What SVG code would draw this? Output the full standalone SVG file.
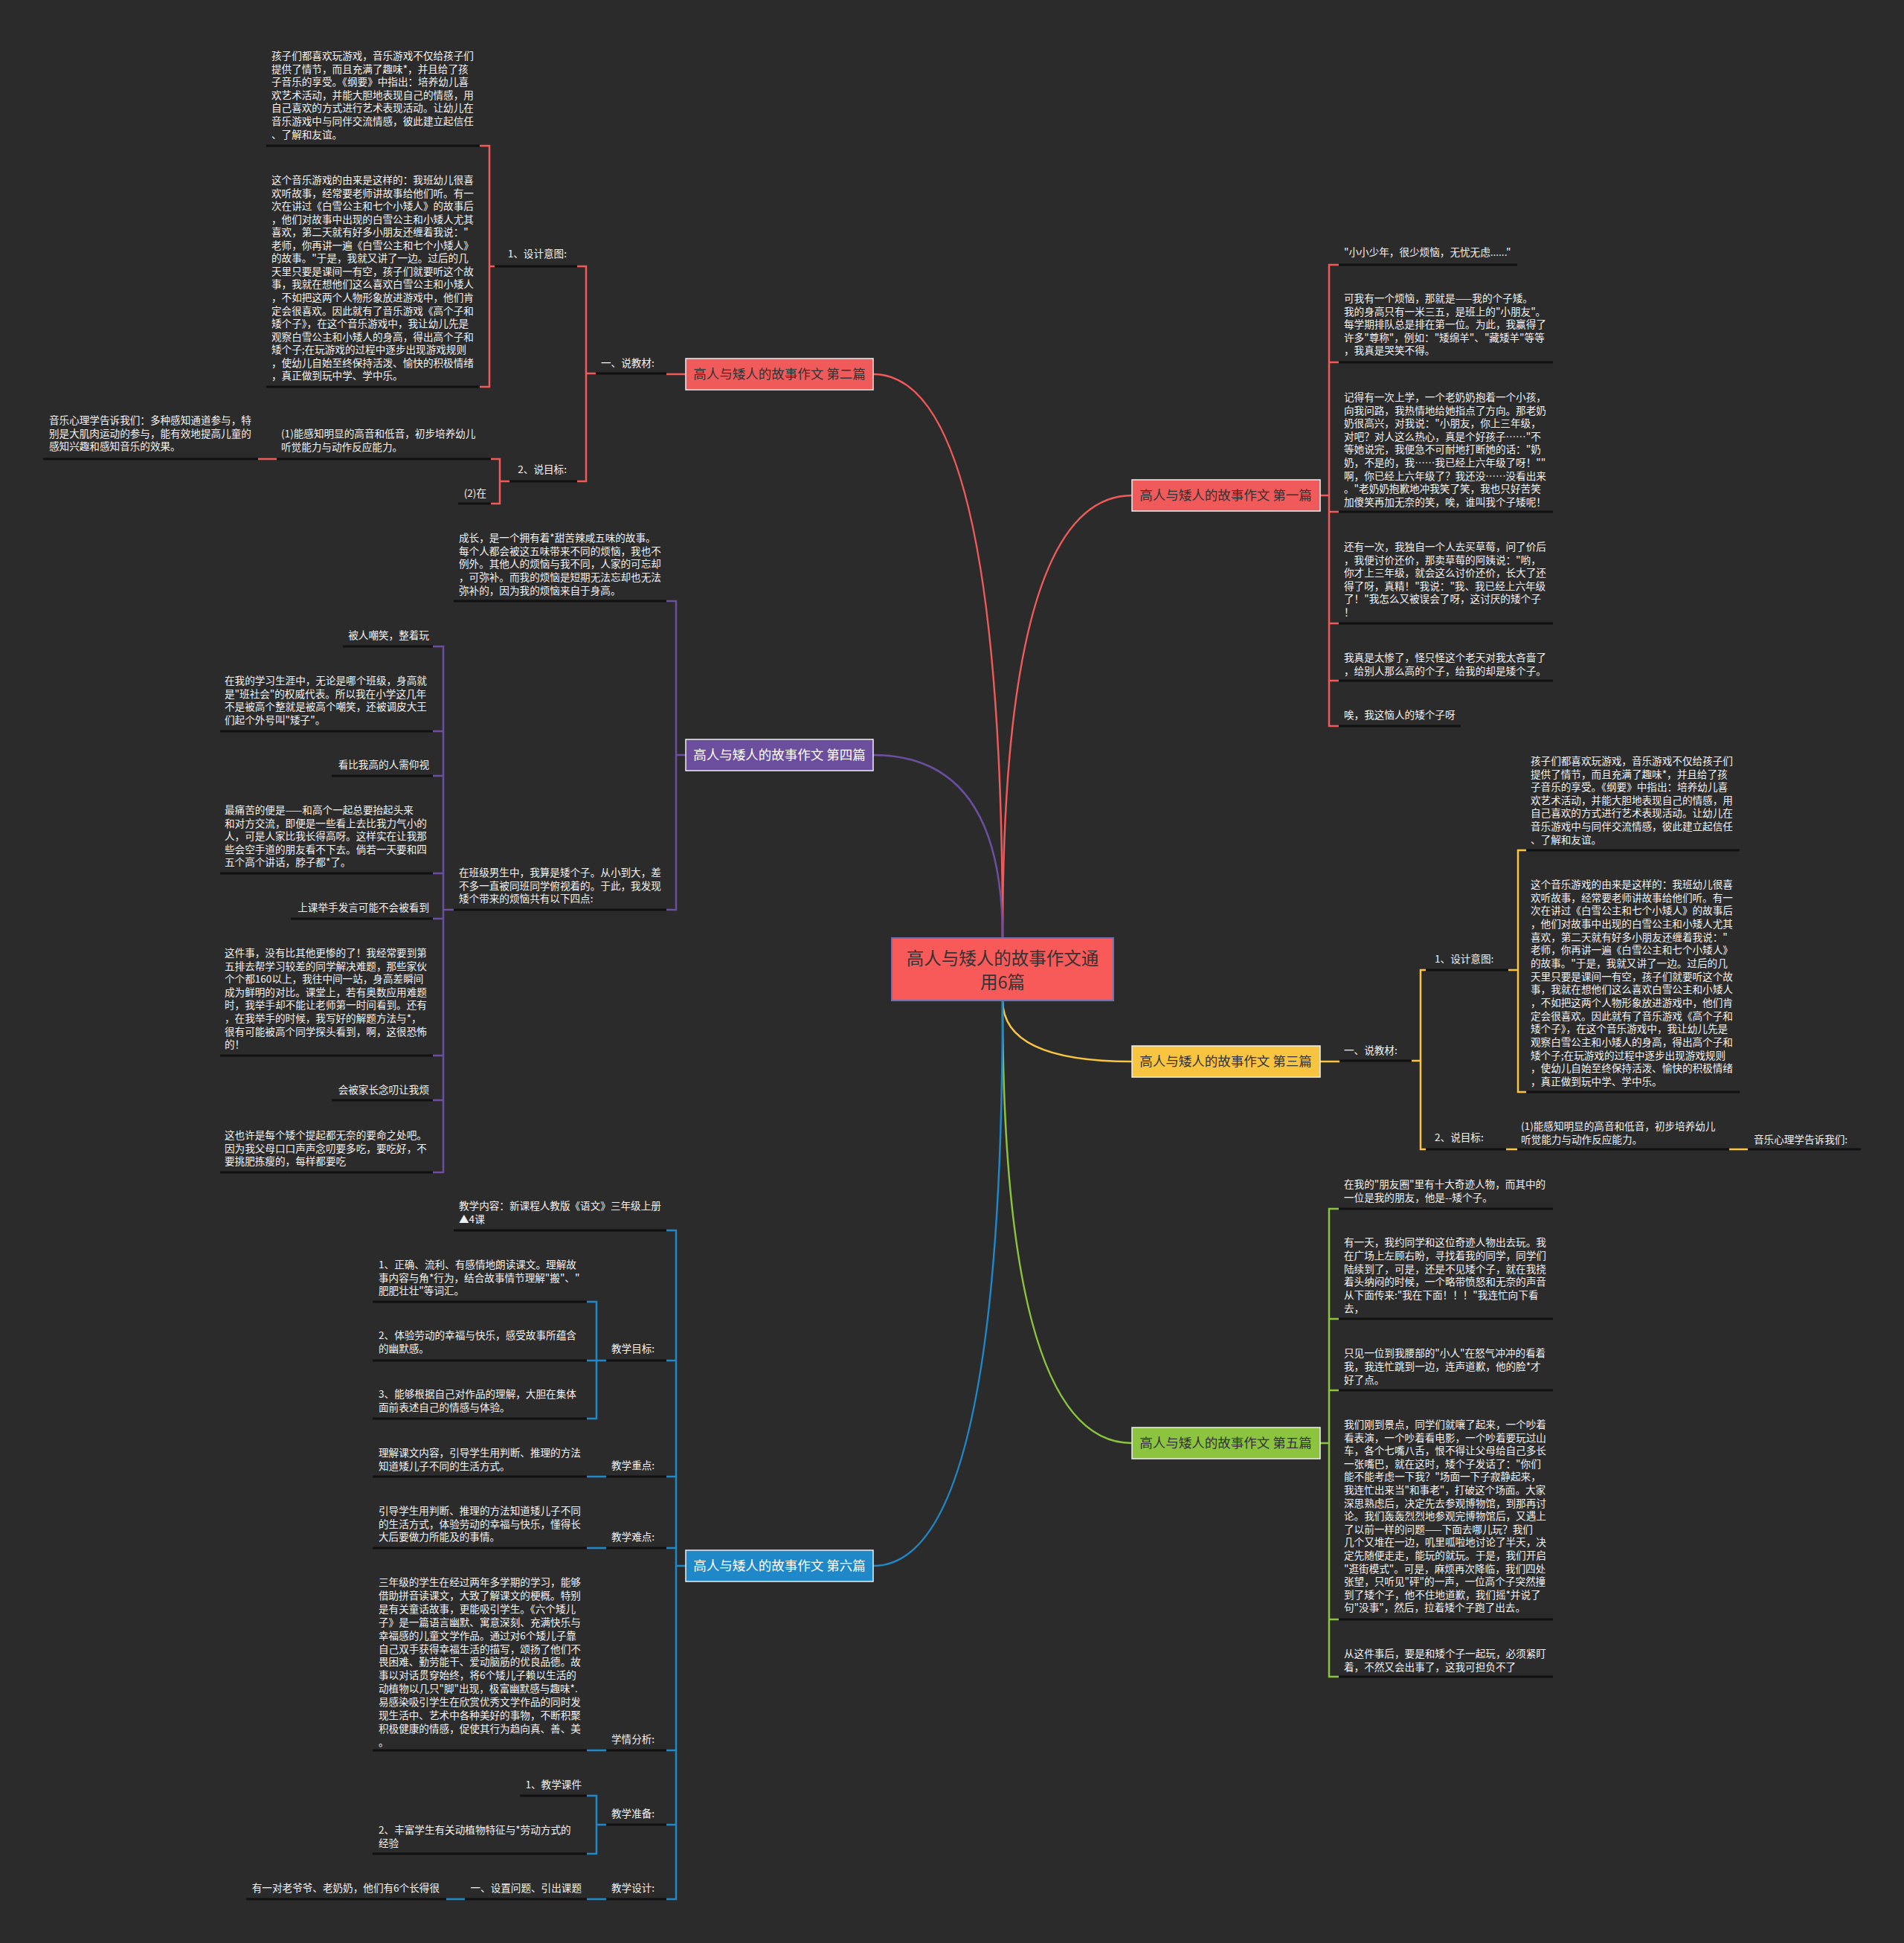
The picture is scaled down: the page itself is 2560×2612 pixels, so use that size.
<svg xmlns="http://www.w3.org/2000/svg" width="2560" height="2612" viewBox="0 0 2560 2612">
<style>
.t{font-family:"Noto Sans CJK SC","Microsoft YaHei",sans-serif;font-size:13.6px;fill:#f2f2f2}
.e{text-anchor:end}
.ul{stroke:#111;stroke-width:3;fill:none}
.br{fill:none;stroke-width:2.5}
.red{stroke:#f05a5a}.pur{stroke:#6b4f9e}.yel{stroke:#f9c440}.grn{stroke:#8cc43f}.blu{stroke:#1f88c9}
.nt{font-family:"Noto Sans CJK SC","Microsoft YaHei",sans-serif;font-size:17.5px;text-anchor:middle}
.nb{stroke:#f0f0f0;stroke-width:1.5}
</style>
<rect x="0" y="0" width="2560" height="2612" fill="#2b2b2b"/>

<g id="connectors">
<path class="br red" d="M1348 1261 Q1348 503 1174 503"/>
<path class="br red" d="M1348 1261 Q1348 666 1522 666"/>
<path class="br pur" d="M1348 1261 Q1348 1015 1174 1015"/>
<path class="br yel" d="M1348 1344 Q1348 1427 1522 1427"/>
<path class="br grn" d="M1348 1344 Q1348 1940 1522 1940"/>
<path class="br blu" d="M1348 1344 Q1348 2105 1174 2105"/>

<g>
<line class="ul" x1="1800" y1="356" x2="2040" y2="356"/>
<line class="ul" x1="1800" y1="487" x2="2088" y2="487"/>
<line class="ul" x1="1800" y1="688" x2="2088" y2="688"/>
<line class="ul" x1="1800" y1="838" x2="2088" y2="838"/>
<line class="ul" x1="1800" y1="915" x2="2088" y2="915"/>
<line class="ul" x1="1800" y1="976" x2="1964" y2="976"/>

<line class="ul" x1="358" y1="196" x2="645" y2="196"/>
<line class="ul" x1="358" y1="520" x2="645" y2="520"/>
<line class="ul" x1="665" y1="358" x2="776" y2="358"/>
<line class="ul" x1="801" y1="502" x2="896" y2="502"/>
<line class="ul" x1="685" y1="647" x2="776" y2="647"/>
<line class="ul" x1="372" y1="617" x2="660" y2="617"/>
<line class="ul" x1="58" y1="617" x2="347" y2="617"/>
<line class="ul" x1="616" y1="677" x2="660" y2="677"/>

<line class="ul" x1="610" y1="808" x2="896" y2="808"/>
<line class="ul" x1="610" y1="1223" x2="896" y2="1223"/>
<line class="ul" x1="461" y1="869" x2="582" y2="869"/>
<line class="ul" x1="296" y1="983" x2="582" y2="983"/>
<line class="ul" x1="446" y1="1043" x2="582" y2="1043"/>
<line class="ul" x1="296" y1="1174" x2="582" y2="1174"/>
<line class="ul" x1="391" y1="1235" x2="582" y2="1235"/>
<line class="ul" x1="296" y1="1419" x2="582" y2="1419"/>
<line class="ul" x1="446" y1="1479" x2="582" y2="1479"/>
<line class="ul" x1="296" y1="1576" x2="582" y2="1576"/>

<line class="ul" x1="610" y1="1654" x2="896" y2="1654"/>
<line class="ul" x1="815" y1="1829" x2="896" y2="1829"/>
<line class="ul" x1="815" y1="1985" x2="896" y2="1985"/>
<line class="ul" x1="815" y1="2081" x2="896" y2="2081"/>
<line class="ul" x1="815" y1="2353" x2="896" y2="2353"/>
<line class="ul" x1="815" y1="2453" x2="896" y2="2453"/>
<line class="ul" x1="815" y1="2553" x2="896" y2="2553"/>
<line class="ul" x1="501" y1="1750" x2="789" y2="1750"/>
<line class="ul" x1="501" y1="1829" x2="789" y2="1829"/>
<line class="ul" x1="501" y1="1907" x2="789" y2="1907"/>
<line class="ul" x1="501" y1="1985" x2="789" y2="1985"/>
<line class="ul" x1="501" y1="2081" x2="789" y2="2081"/>
<line class="ul" x1="501" y1="2353" x2="789" y2="2353"/>
<line class="ul" x1="699" y1="2414" x2="789" y2="2414"/>
<line class="ul" x1="501" y1="2492" x2="789" y2="2492"/>
<line class="ul" x1="625" y1="2553" x2="789" y2="2553"/>
<line class="ul" x1="331" y1="2553" x2="600" y2="2553"/>

<line class="ul" x1="1801" y1="1426" x2="1898" y2="1426"/>
<line class="ul" x1="1917" y1="1304" x2="2028" y2="1304"/>
<line class="ul" x1="1917" y1="1545" x2="2025" y2="1545"/>
<line class="ul" x1="2052" y1="1143" x2="2339" y2="1143"/>
<line class="ul" x1="2052" y1="1468" x2="2339" y2="1468"/>
<line class="ul" x1="2040" y1="1545" x2="2325" y2="1545"/>
<line class="ul" x1="2350" y1="1545" x2="2502" y2="1545"/>

<line class="ul" x1="1800" y1="1625" x2="2088" y2="1625"/>
<line class="ul" x1="1800" y1="1773" x2="2088" y2="1773"/>
<line class="ul" x1="1800" y1="1869" x2="2088" y2="1869"/>
<line class="ul" x1="1800" y1="2177" x2="2088" y2="2177"/>
<line class="ul" x1="1800" y1="2254" x2="2088" y2="2254"/>
</g>

<path class="br red" d="M1775 666 H1787 M1800 356 H1787 V976 H1800 M1787 487 H1800 M1787 688 H1800 M1787 838 H1800 M1787 915 H1800"/>
<path class="br red" d="M922 503 H896 M801 502 H788 M776 358 H788 V647 H776 M665 358 H658 M645 196 H658 V520 H645 M685 647 H672 M660 617 H672 V677 H660 M372 617 H347"/>
<path class="br pur" d="M922 1015 H909 M896 808 H909 V1223 H896 M610 1223 H596 M582 869 H596 V1576 H582 M582 983 H596 M582 1043 H596 M582 1174 H596 M582 1235 H596 M582 1419 H596 M582 1479 H596"/>
<path class="br blu" d="M922 2105 H909 M896 1654 H909 V2553 H896 M896 1829 H909 M896 1985 H909 M896 2081 H909 M896 2353 H909 M896 2453 H909 M815 1829 H802 M789 1750 H802 V1907 H789 M789 1829 H802 M789 1985 H815 M789 2081 H815 M789 2353 H815 M815 2453 H802 M789 2414 H802 V2492 H789 M789 2553 H815 M600 2553 H625"/>
<path class="br yel" d="M1775 1427 H1801 M1898 1426 H1910 M1917 1304 H1910 V1545 H1917 M2028 1304 H2041 M2052 1143 H2041 V1468 H2052 M2025 1545 H2040 M2325 1545 H2350"/>
<path class="br grn" d="M1775 1940 H1787 M1800 1625 H1787 V2254 H1800 M1787 1773 H1800 M1787 1869 H1800 M1787 2177 H1800"/>
</g>

<g id="center">
<rect x="1199" y="1261" width="298" height="84" fill="#f85a5a" stroke="#6d70b3" stroke-width="2"/>
<text font-family="Noto Sans CJK SC, sans-serif" font-size="23.5" fill="#333" text-anchor="middle"><tspan x="1348" y="1297">高人与矮人的故事作文通</tspan><tspan x="1348" y="1329">用6篇</tspan></text>
</g>

<g id="n1">
<rect class="nb" x="1522" y="645" width="253" height="42" fill="#f05a5a"/>
<text class="nt" x="1648" y="672" fill="#333">高人与矮人的故事作文 第一篇</text>
<text class="t" x="1807" y="344">"小小少年，很少烦恼，无忧无虑......"</text>
<text class="t"><tspan x="1807" y="406">可我有一个烦恼，那就是——我的个子矮。</tspan><tspan x="1807" dy="17.6">我的身高只有一米三五，是班上的"小朋友"。</tspan><tspan x="1807" dy="17.6">每学期排队总是排在第一位。为此，我赢得了</tspan><tspan x="1807" dy="17.6">许多"尊称"，例如："矮绵羊"、"藏矮羊"等等</tspan><tspan x="1807" dy="17.6">，我真是哭笑不得。</tspan></text>
<text class="t"><tspan x="1807" y="539">记得有一次上学，一个老奶奶抱着一个小孩，</tspan><tspan x="1807" dy="17.6">向我问路，我热情地给她指点了方向。那老奶</tspan><tspan x="1807" dy="17.6">奶很高兴，对我说："小朋友，你上三年级，</tspan><tspan x="1807" dy="17.6">对吧？对人这么热心，真是个好孩子……"不</tspan><tspan x="1807" dy="17.6">等她说完，我便急不可耐地打断她的话："奶</tspan><tspan x="1807" dy="17.6">奶，不是的，我……我已经上六年级了呀！""</tspan><tspan x="1807" dy="17.6">啊，你已经上六年级了？我还没……没看出来</tspan><tspan x="1807" dy="17.6">。"老奶奶抱歉地冲我笑了笑，我也只好苦笑</tspan><tspan x="1807" dy="17.6">加傻笑再加无奈的笑，唉，谁叫我个子矮呢！</tspan></text>
<text class="t"><tspan x="1807" y="740">还有一次，我独自一个人去买草莓，问了价后</tspan><tspan x="1807" dy="17.6">，我便讨价还价，那卖草莓的阿姨说："哟，</tspan><tspan x="1807" dy="17.6">你才上三年级，就会这么讨价还价，长大了还</tspan><tspan x="1807" dy="17.6">得了呀，真精！"我说："我、我已经上六年级</tspan><tspan x="1807" dy="17.6">了！"我怎么又被误会了呀，这讨厌的矮个子</tspan><tspan x="1807" dy="17.6">！</tspan></text>
<text class="t"><tspan x="1807" y="889">我真是太惨了，怪只怪这个老天对我太吝啬了</tspan><tspan x="1807" dy="17.6">，给别人那么高的个子，给我的却是矮个子。</tspan></text>
<text class="t" x="1807" y="966">唉，我这恼人的矮个子呀</text>
</g>

<g id="n2">
<rect class="nb" x="922" y="482" width="252" height="42" fill="#f05a5a"/>
<text class="nt" x="1048" y="509" fill="#333">高人与矮人的故事作文 第二篇</text>
<text class="t" x="808" y="493">一、说教材:</text>
<text class="t e" x="762" y="346">1、设计意图:</text>
<text class="t e" x="762" y="636">2、说目标:</text>
<text class="t"><tspan x="365" y="80">孩子们都喜欢玩游戏，音乐游戏不仅给孩子们</tspan><tspan x="365" dy="17.6">提供了情节，而且充满了趣味*，并且给了孩</tspan><tspan x="365" dy="17.6">子音乐的享受。《纲要》中指出：培养幼儿喜</tspan><tspan x="365" dy="17.6">欢艺术活动，并能大胆地表现自己的情感，用</tspan><tspan x="365" dy="17.6">自己喜欢的方式进行艺术表现活动。让幼儿在</tspan><tspan x="365" dy="17.6">音乐游戏中与同伴交流情感，彼此建立起信任</tspan><tspan x="365" dy="17.6">、了解和友谊。</tspan></text>
<text class="t"><tspan x="365" y="247">这个音乐游戏的由来是这样的：我班幼儿很喜</tspan><tspan x="365" dy="17.56">欢听故事，经常要老师讲故事给他们听。有一</tspan><tspan x="365" dy="17.56">次在讲过《白雪公主和七个小矮人》的故事后</tspan><tspan x="365" dy="17.56">，他们对故事中出现的白雪公主和小矮人尤其</tspan><tspan x="365" dy="17.56">喜欢，第二天就有好多小朋友还缠着我说："</tspan><tspan x="365" dy="17.56">老师，你再讲一遍《白雪公主和七个小矮人》</tspan><tspan x="365" dy="17.56">的故事。"于是，我就又讲了一边。过后的几</tspan><tspan x="365" dy="17.56">天里只要是课间一有空，孩子们就要听这个故</tspan><tspan x="365" dy="17.56">事，我就在想他们这么喜欢白雪公主和小矮人</tspan><tspan x="365" dy="17.56">，不如把这两个人物形象放进游戏中，他们肯</tspan><tspan x="365" dy="17.56">定会很喜欢。因此就有了音乐游戏《高个子和</tspan><tspan x="365" dy="17.56">矮个子》，在这个音乐游戏中，我让幼儿先是</tspan><tspan x="365" dy="17.56">观察白雪公主和小矮人的身高，得出高个子和</tspan><tspan x="365" dy="17.56">矮个子;在玩游戏的过程中逐步出现游戏规则</tspan><tspan x="365" dy="17.56">，使幼儿自始至终保持活泼、愉快的积极情绪</tspan><tspan x="365" dy="17.56">，真正做到玩中学、学中乐。</tspan></text>
<text class="t"><tspan x="378" y="588">(1)能感知明显的高音和低音，初步培养幼儿</tspan><tspan x="378" dy="17.6">听觉能力与动作反应能力。</tspan></text>
<text class="t"><tspan x="66" y="570">音乐心理学告诉我们：多种感知通道参与，特</tspan><tspan x="66" dy="17.6">别是大肌肉运动的参与，能有效地提高儿童的</tspan><tspan x="66" dy="17.6">感知兴趣和感知音乐的效果。</tspan></text>
<text class="t e" x="654" y="668">(2)在</text>
</g>

<g id="n3">
<rect class="nb" x="1522" y="1406" width="253" height="42" fill="#f9c440"/>
<text class="nt" x="1648" y="1433" fill="#333">高人与矮人的故事作文 第三篇</text>
<text class="t" x="1807" y="1417">一、说教材:</text>
<text class="t" x="1929" y="1294">1、设计意图:</text>
<text class="t" x="1929" y="1534">2、说目标:</text>
<text class="t"><tspan x="2058" y="1028">孩子们都喜欢玩游戏，音乐游戏不仅给孩子们</tspan><tspan x="2058" dy="17.6">提供了情节，而且充满了趣味*，并且给了孩</tspan><tspan x="2058" dy="17.6">子音乐的享受。《纲要》中指出：培养幼儿喜</tspan><tspan x="2058" dy="17.6">欢艺术活动，并能大胆地表现自己的情感，用</tspan><tspan x="2058" dy="17.6">自己喜欢的方式进行艺术表现活动。让幼儿在</tspan><tspan x="2058" dy="17.6">音乐游戏中与同伴交流情感，彼此建立起信任</tspan><tspan x="2058" dy="17.6">、了解和友谊。</tspan></text>
<text class="t"><tspan x="2058" y="1194">这个音乐游戏的由来是这样的：我班幼儿很喜</tspan><tspan x="2058" dy="17.67">欢听故事，经常要老师讲故事给他们听。有一</tspan><tspan x="2058" dy="17.67">次在讲过《白雪公主和七个小矮人》的故事后</tspan><tspan x="2058" dy="17.67">，他们对故事中出现的白雪公主和小矮人尤其</tspan><tspan x="2058" dy="17.67">喜欢，第二天就有好多小朋友还缠着我说："</tspan><tspan x="2058" dy="17.67">老师，你再讲一遍《白雪公主和七个小矮人》</tspan><tspan x="2058" dy="17.67">的故事。"于是，我就又讲了一边。过后的几</tspan><tspan x="2058" dy="17.67">天里只要是课间一有空，孩子们就要听这个故</tspan><tspan x="2058" dy="17.67">事，我就在想他们这么喜欢白雪公主和小矮人</tspan><tspan x="2058" dy="17.67">，不如把这两个人物形象放进游戏中，他们肯</tspan><tspan x="2058" dy="17.67">定会很喜欢。因此就有了音乐游戏《高个子和</tspan><tspan x="2058" dy="17.67">矮个子》，在这个音乐游戏中，我让幼儿先是</tspan><tspan x="2058" dy="17.67">观察白雪公主和小矮人的身高，得出高个子和</tspan><tspan x="2058" dy="17.67">矮个子;在玩游戏的过程中逐步出现游戏规则</tspan><tspan x="2058" dy="17.67">，使幼儿自始至终保持活泼、愉快的积极情绪</tspan><tspan x="2058" dy="17.67">，真正做到玩中学、学中乐。</tspan></text>
<text class="t"><tspan x="2045" y="1519">(1)能感知明显的高音和低音，初步培养幼儿</tspan><tspan x="2045" dy="17.6">听觉能力与动作反应能力。</tspan></text>
<text class="t" x="2358" y="1537">音乐心理学告诉我们:</text>
</g>

<g id="n4">
<rect class="nb" x="922" y="994" width="252" height="42" fill="#6b4f9e"/>
<text class="nt" x="1048" y="1021" fill="#fff">高人与矮人的故事作文 第四篇</text>
<text class="t"><tspan x="617" y="728">成长，是一个拥有着*甜苦辣咸五味的故事。</tspan><tspan x="617" dy="17.7">每个人都会被这五味带来不同的烦恼，我也不</tspan><tspan x="617" dy="17.7">例外。其他人的烦恼与我不同，人家的可忘却</tspan><tspan x="617" dy="17.7">，可弥补。而我的烦恼是短期无法忘却也无法</tspan><tspan x="617" dy="17.7">弥补的，因为我的烦恼来自于身高。</tspan></text>
<text class="t"><tspan x="617" y="1178">在班级男生中，我算是矮个子。从小到大，差</tspan><tspan x="617" dy="17.6">不多一直被同班同学俯视着的。于此，我发现</tspan><tspan x="617" dy="17.6">矮个带来的烦恼共有以下四点:</tspan></text>
<text class="t e" x="577" y="859">被人嘲笑，整着玩</text>
<text class="t"><tspan x="302" y="920">在我的学习生涯中，无论是哪个班级，身高就</tspan><tspan x="302" dy="17.6">是"班社会"的权威代表。所以我在小学这几年</tspan><tspan x="302" dy="17.6">不是被高个整就是被高个嘲笑，还被调皮大王</tspan><tspan x="302" dy="17.6">们起个外号叫"矮子"。</tspan></text>
<text class="t e" x="577" y="1033">看比我高的人需仰视</text>
<text class="t"><tspan x="302" y="1094">最痛苦的便是——和高个一起总要抬起头来</tspan><tspan x="302" dy="17.6">和对方交流，即便是一些看上去比我力气小的</tspan><tspan x="302" dy="17.6">人，可是人家比我长得高呀。这样实在让我那</tspan><tspan x="302" dy="17.6">些会空手道的朋友看不下去。倘若一天要和四</tspan><tspan x="302" dy="17.6">五个高个讲话，脖子都*了。</tspan></text>
<text class="t e" x="577" y="1225">上课举手发言可能不会被看到</text>
<text class="t"><tspan x="302" y="1286">这件事，没有比其他更惨的了！我经常要到第</tspan><tspan x="302" dy="17.6">五排去帮学习较差的同学解决难题，那些家伙</tspan><tspan x="302" dy="17.6">个个都160以上，我往中间一站，身高差瞬间</tspan><tspan x="302" dy="17.6">成为鲜明的对比。课堂上，若有奥数应用难题</tspan><tspan x="302" dy="17.6">时，我举手却不能让老师第一时间看到。还有</tspan><tspan x="302" dy="17.6">，在我举手的时候，我写好的解题方法与*，</tspan><tspan x="302" dy="17.6">很有可能被高个同学探头看到，啊，这很恐怖</tspan><tspan x="302" dy="17.6">的！</tspan></text>
<text class="t e" x="577" y="1470">会被家长念叨让我烦</text>
<text class="t"><tspan x="302" y="1531">这也许是每个矮个提起都无奈的要命之处吧。</tspan><tspan x="302" dy="17.6">因为我父母口口声声念叨要多吃，要吃好，不</tspan><tspan x="302" dy="17.6">要挑肥拣瘦的，每样都要吃</tspan></text>
</g>

<g id="n5">
<rect class="nb" x="1522" y="1919" width="253" height="42" fill="#8cc43f"/>
<text class="nt" x="1648" y="1946" fill="#333">高人与矮人的故事作文 第五篇</text>
<text class="t"><tspan x="1807" y="1597">在我的"朋友圈"里有十大奇迹人物，而其中的</tspan><tspan x="1807" dy="17.6">一位是我的朋友，他是--矮个子。</tspan></text>
<text class="t"><tspan x="1807" y="1675">有一天，我约同学和这位奇迹人物出去玩。我</tspan><tspan x="1807" dy="17.8">在广场上左顾右盼，寻找着我的同学，同学们</tspan><tspan x="1807" dy="17.8">陆续到了，可是，还是不见矮个子，就在我挠</tspan><tspan x="1807" dy="17.8">着头纳闷的时候，一个略带愤怒和无奈的声音</tspan><tspan x="1807" dy="17.8">从下面传来:"我在下面！！！"我连忙向下看</tspan><tspan x="1807" dy="17.8">去，</tspan></text>
<text class="t"><tspan x="1807" y="1824">只见一位到我腰部的"小人"在怒气冲冲的看着</tspan><tspan x="1807" dy="17.8">我，我连忙跳到一边，连声道歉，他的脸*才</tspan><tspan x="1807" dy="17.8">好了点。</tspan></text>
<text class="t"><tspan x="1807" y="1920">我们刚到景点，同学们就嚷了起来，一个吵着</tspan><tspan x="1807" dy="17.6">看表演，一个吵着看电影，一个吵着要玩过山</tspan><tspan x="1807" dy="17.6">车，各个七嘴八舌，恨不得让父母给自己多长</tspan><tspan x="1807" dy="17.6">一张嘴巴，就在这时，矮个子发话了："你们</tspan><tspan x="1807" dy="17.6">能不能考虑一下我？"场面一下子寂静起来，</tspan><tspan x="1807" dy="17.6">我连忙出来当"和事老"，打破这个场面。大家</tspan><tspan x="1807" dy="17.6">深思熟虑后，决定先去参观博物馆，到那再讨</tspan><tspan x="1807" dy="17.6">论。我们轰轰烈烈地参观完博物馆后，又遇上</tspan><tspan x="1807" dy="17.6">了以前一样的问题——下面去哪儿玩？我们</tspan><tspan x="1807" dy="17.6">几个又堆在一边，叽里呱啦地讨论了半天，决</tspan><tspan x="1807" dy="17.6">定先随便走走，能玩的就玩。于是，我们开启</tspan><tspan x="1807" dy="17.6">"逛街模式"。可是，麻烦再次降临，我们四处</tspan><tspan x="1807" dy="17.6">张望，只听见"砰"的一声，一位高个子突然撞</tspan><tspan x="1807" dy="17.6">到了矮个子，他不住地道歉，我们摇*并说了</tspan><tspan x="1807" dy="17.6">句"没事"，然后，拉着矮个子跑了出去。</tspan></text>
<text class="t"><tspan x="1807" y="2228">从这件事后，要是和矮个子一起玩，必须紧盯</tspan><tspan x="1807" dy="17.6">着，不然又会出事了，这我可担负不了</tspan></text>
</g>

<g id="n6">
<rect class="nb" x="922" y="2084" width="252" height="42" fill="#1f88c9"/>
<text class="nt" x="1048" y="2111" fill="#fff">高人与矮人的故事作文 第六篇</text>
<text class="t"><tspan x="617" y="1626">教学内容：新课程人教版《语文》三年级上册</tspan><tspan x="617" dy="17.6">▲4课</tspan></text>
<text class="t" x="822" y="1818">教学目标:</text>
<text class="t" x="822" y="1975">教学重点:</text>
<text class="t" x="822" y="2071">教学难点:</text>
<text class="t" x="822" y="2343">学情分析:</text>
<text class="t" x="822" y="2443">教学准备:</text>
<text class="t" x="822" y="2543">教学设计:</text>
<text class="t"><tspan x="509" y="1705">1、正确、流利、有感情地朗读课文。理解故</tspan><tspan x="509" dy="17.6">事内容与角*行为，结合故事情节理解"搬"、"</tspan><tspan x="509" dy="17.6">肥肥壮壮"等词汇。</tspan></text>
<text class="t"><tspan x="509" y="1800">2、体验劳动的幸福与快乐，感受故事所蕴含</tspan><tspan x="509" dy="17.6">的幽默感。</tspan></text>
<text class="t"><tspan x="509" y="1879">3、能够根据自己对作品的理解，大胆在集体</tspan><tspan x="509" dy="17.6">面前表述自己的情感与体验。</tspan></text>
<text class="t"><tspan x="509" y="1958">理解课文内容，引导学生用判断、推理的方法</tspan><tspan x="509" dy="17.6">知道矮儿子不同的生活方式。</tspan></text>
<text class="t"><tspan x="509" y="2036">引导学生用判断、推理的方法知道矮儿子不同</tspan><tspan x="509" dy="17.6">的生活方式，体验劳动的幸福与快乐，懂得长</tspan><tspan x="509" dy="17.6">大后要做力所能及的事情。</tspan></text>
<text class="t"><tspan x="509" y="2132">三年级的学生在经过两年多学期的学习，能够</tspan><tspan x="509" dy="17.9">借助拼音读课文，大致了解课文的梗概。特别</tspan><tspan x="509" dy="17.9">是有关童话故事，更能吸引学生。《六个矮儿</tspan><tspan x="509" dy="17.9">子》是一篇语言幽默、寓意深刻、充满快乐与</tspan><tspan x="509" dy="17.9">幸福感的儿童文学作品。通过对6个矮儿子靠</tspan><tspan x="509" dy="17.9">自己双手获得幸福生活的描写，颂扬了他们不</tspan><tspan x="509" dy="17.9">畏困难、勤劳能干、爱动脑筋的优良品德。故</tspan><tspan x="509" dy="17.9">事以对话贯穿始终，将6个矮儿子赖以生活的</tspan><tspan x="509" dy="17.9">动植物以几只"脚"出现，极富幽默感与趣味*.</tspan><tspan x="509" dy="17.9">易感染吸引学生在欣赏优秀文学作品的同时发</tspan><tspan x="509" dy="17.9">现生活中、艺术中各种美好的事物，不断积聚</tspan><tspan x="509" dy="17.9">积极健康的情感，促使其行为趋向真、善、美</tspan><tspan x="509" dy="17.9">。</tspan></text>
<text class="t e" x="782" y="2404">1、教学课件</text>
<text class="t"><tspan x="509" y="2465">2、丰富学生有关动植物特征与*劳动方式的</tspan><tspan x="509" dy="17.6">经验</tspan></text>
<text class="t e" x="782" y="2543">一、设置问题、引出课题</text>
<text class="t e" x="591" y="2543">有一对老爷爷、老奶奶，他们有6个长得很</text>
</g>
</svg>
